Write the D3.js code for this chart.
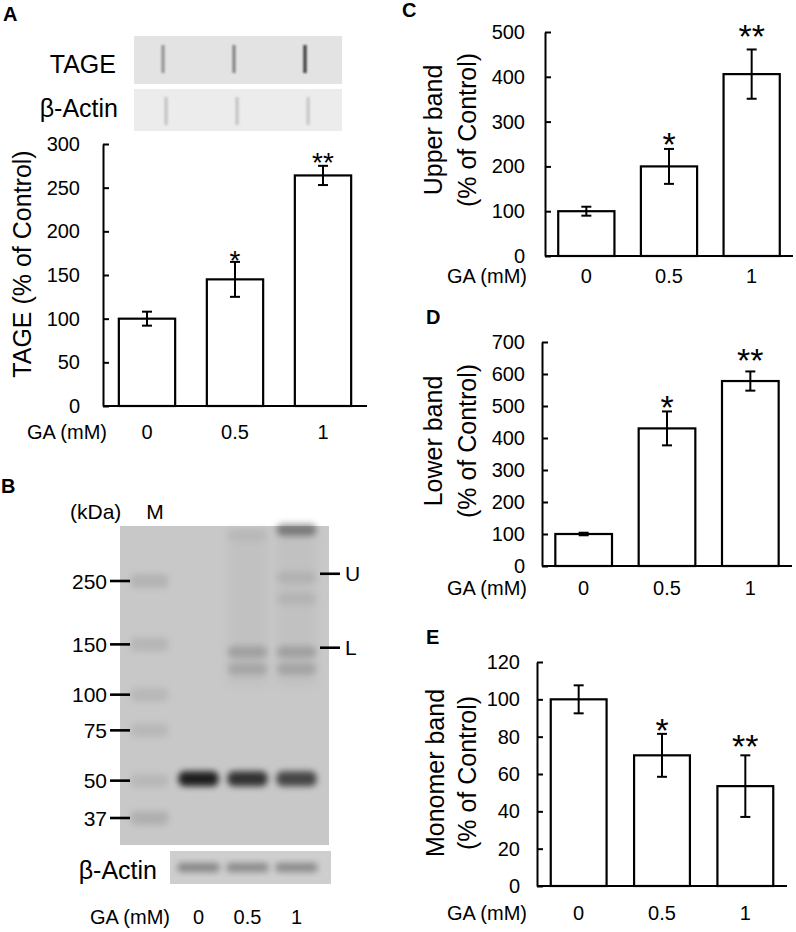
<!DOCTYPE html>
<html>
<head>
<meta charset="utf-8">
<script src="https://cdn.jsdelivr.net/npm/d3@7"></script>
<style>
  body { margin: 0; background: #fff; }
  svg { font-family: "Liberation Sans", Arial, sans-serif; }
</style>
</head>
<body>
<script>
// ---- data ----
const doses = ['0', '0.5', '1'];

const tageMean = [100, 145, 264];
const tageErr = [8, 20, 11];
const tageSig = ['', '*', '**'];
const tageTicks = [0, 50, 100, 150, 200, 250, 300];

const upperMean = [100, 200, 406];
const upperErr = [10, 39, 55];
const upperSig = ['', '*', '**'];
const upperTicks = [0, 100, 200, 300, 400, 500];

const lowerMean = [100, 430, 578];
const lowerErr = [4, 53, 30];
const lowerSig = ['', '*', '**'];
const lowerTicks = [0, 100, 200, 300, 400, 500, 600, 700];

const monoMean = [100, 70, 53.5];
const monoErr = [7.5, 11.5, 16.5];
const monoSig = ['', '*', '**'];
const monoTicks = [0, 20, 40, 60, 80, 100, 120];

// slot blot intensities (panel A)
const tageBlot = [0.35, 0.42, 0.75];
const actinBlotA = [0.16, 0.16, 0.15];

// western blot (panel B)
const gelLanes = ['M', '0', '0.5', '1'];
const markerKDa = [250, 150, 100, 75, 50, 37];
const markerAlpha = [0.1, 0.09, 0.08, 0.08, 0.08, 0.12];
const gelBands = [
    {lane: '0', kDa: 51, a: 0.85},
    {lane: '0.5', kDa: 360, a: 0.05},
    {lane: '0.5', kDa: 140, a: 0.17},
    {lane: '0.5', kDa: 122, a: 0.14},
    {lane: '0.5', kDa: 51, a: 0.75},
    {lane: '1', kDa: 375, a: 0.38},
    {lane: '1', kDa: 255, a: 0.08},
    {lane: '1', kDa: 215, a: 0.07},
    {lane: '1', kDa: 140, a: 0.17},
    {lane: '1', kDa: 122, a: 0.15},
    {lane: '1', kDa: 51, a: 0.65}
];
const bandMarks = [{name: 'U', kDa: 265}, {name: 'L', kDa: 146}];
const actinBlotB = [0.35, 0.33, 0.33];

const svg = d3.select('body').append('svg')
    .attr('width', 796)
    .attr('height', 932);

const defs = svg.append('defs');
function blurFilter(id, sd) {
    defs.append('filter').attr('id', id)
        .attr('x', '-50%').attr('y', '-50%').attr('width', '200%').attr('height', '200%')
        .append('feGaussianBlur').attr('stdDeviation', sd);
}
blurFilter('blur', 3.4);
blurFilter('blurS', 1.3);
blurFilter('blurL', 5);

function panelLabel(txt, x, y) {
    svg.append('text')
        .attr('x', x).attr('y', y)
        .attr('font-size', 20).attr('font-weight', 'bold')
        .text(txt);
}

/*
 * Bar chart with inward ticks, error bars and significance stars.
 */
function barPanel(o) {
    const g = svg.append('g');

    const x = d3.scaleBand().domain(doses).range([o.x0, o.x1])
        .paddingInner(o.pad).paddingOuter(o.pad / 2);
    const y = d3.scaleLinear().domain([0, d3.max(o.ticks)]).range([o.yBottom, o.yTop]);

    const yAxis = d3.axisLeft(y)
        .tickValues(o.ticks)
        .tickSize(-6)
        .tickSizeOuter(0)
        .tickPadding(o.labelGap);

    const yG = g.append('g')
        .attr('transform', `translate(${o.x0},0)`)
        .call(yAxis);
    yG.selectAll('path, line').attr('stroke', '#000').attr('stroke-width', 2);
    yG.selectAll('text').attr('font-size', 20).attr('fill', '#000').attr('font-family', null);

    const rows = doses.map((d, i) => ({dose: d, mean: o.mean[i], err: o.err[i], sig: o.sig[i]}));

    g.selectAll('.bar')
        .data(rows)
        .join('rect')
        .attr('class', 'bar')
        .attr('x', d => x(d.dose))
        .attr('y', d => y(d.mean))
        .attr('width', x.bandwidth())
        .attr('height', d => y(0) - y(d.mean))
        .attr('fill', '#fff')
        .attr('stroke', '#000')
        .attr('stroke-width', 2.2);

    // x-axis line
    g.append('line')
        .attr('x1', o.x0).attr('x2', o.x1)
        .attr('y1', y(0)).attr('y2', y(0))
        .attr('stroke', '#000').attr('stroke-width', 2);

    // error bars
    const eb = g.selectAll('.err')
        .data(rows)
        .join('g')
        .attr('class', 'err')
        .attr('transform', d => `translate(${x(d.dose) + x.bandwidth() / 2},0)`)
        .attr('stroke', '#000').attr('stroke-width', 2);
    eb.append('line').attr('y1', d => y(d.mean + d.err)).attr('y2', d => y(d.mean - d.err));
    eb.append('line').attr('x1', -5).attr('x2', 5).attr('y1', d => y(d.mean + d.err)).attr('y2', d => y(d.mean + d.err));
    eb.append('line').attr('x1', -5).attr('x2', 5).attr('y1', d => y(d.mean - d.err)).attr('y2', d => y(d.mean - d.err));

    // significance marks
    g.selectAll('.sig')
        .data(rows.filter(d => d.sig))
        .join('text')
        .attr('class', 'sig')
        .attr('text-anchor', 'middle')
        .attr('font-size', o.starSize)
        .attr('x', d => x(d.dose) + x.bandwidth() / 2)
        .attr('y', d => y(d.mean + d.err) - (d.sig.length > 1 ? o.starGap[1] : o.starGap[0]) + 0.43 * o.starSize)
        .text(d => d.sig);

    // dose labels
    const xAxis = d3.axisBottom(x).tickSize(0).tickPadding(o.gaBaseline - o.yBottom - 14.2);
    const xG = g.append('g')
        .attr('transform', `translate(0,${o.yBottom})`)
        .call(xAxis);
    xG.select('.domain').remove();
    xG.selectAll('text').attr('font-size', 20).attr('fill', '#000').attr('font-family', null);

    g.append('text')
        .attr('x', o.gaRight).attr('y', o.gaBaseline)
        .attr('text-anchor', 'end')
        .attr('font-size', 20)
        .text('GA (mM)');

    // rotated y title
    o.title.forEach((t, i) => {
        g.append('text')
            .attr('transform', `translate(${o.titleX[i]},${o.titleY}) rotate(-90)`)
            .attr('text-anchor', 'middle')
            .attr('font-size', o.titleSize)
            .text(t);
    });
}

// ---------- Panel A ----------
panelLabel('A', 3, 21);

const blotX = d3.scalePoint().domain(doses).range([163, 305]);
svg.append('rect').attr('x', 134).attr('y', 36).attr('width', 208).attr('height', 48).attr('fill', '#e3e3e3');
svg.append('rect').attr('x', 134).attr('y', 89).attr('width', 208).attr('height', 42).attr('fill', '#ececec');
svg.append('g').attr('filter', 'url(#blurS)')
    .selectAll('rect')
    .data(tageBlot)
    .join('rect')
    .attr('x', (d, i) => blotX(doses[i]) - 1.6)
    .attr('y', 45)
    .attr('width', 3.2)
    .attr('height', 28)
    .attr('fill', '#000')
    .attr('fill-opacity', d => d);
svg.append('g').attr('filter', 'url(#blurS)')
    .selectAll('rect')
    .data(actinBlotA)
    .join('rect')
    .attr('x', (d, i) => blotX(doses[i]) + 3 - 1.6)
    .attr('y', 97)
    .attr('width', 3.4)
    .attr('height', 28)
    .attr('fill', '#000')
    .attr('fill-opacity', d => d);
svg.append('text').attr('x', 116).attr('y', 73).attr('text-anchor', 'end').attr('font-size', 25).text('TAGE');
svg.append('text').attr('x', 118).attr('y', 117).attr('text-anchor', 'end').attr('font-size', 25).text('β-Actin');

barPanel({
    x0: 103, x1: 367, yBottom: 406, yTop: 144, pad: 0.36,
    ticks: tageTicks, mean: tageMean, err: tageErr, sig: tageSig,
    labelGap: 23, starSize: 28, starGap: [4, 6],
    gaRight: 107, gaBaseline: 439,
    title: ['TAGE (% of Control)'], titleX: [31], titleY: 264, titleSize: 25
});

// ---------- Panel B ----------
panelLabel('B', 1, 493);

const gel = {x0: 120, x1: 329, y0: 526, y1: 845};
const kda = d3.scaleLog().domain([37, 250]).range([818, 581]);
const laneX = d3.scaleBand().domain(gelLanes).range([125, 321]).paddingInner(0.1).paddingOuter(0.05);

svg.append('rect').attr('x', gel.x0).attr('y', gel.y0)
    .attr('width', gel.x1 - gel.x0).attr('height', gel.y1 - gel.y0)
    .attr('fill', '#c8c8c8');

const gelG = svg.append('g');
// faint lane smear for treated lanes
gelG.append('g').attr('filter', 'url(#blurL)')
    .selectAll('rect')
    .data(['0.5', '1'])
    .join('rect')
    .attr('x', d => laneX(d) + 2)
    .attr('y', gel.y0 + 4)
    .attr('width', laneX.bandwidth() - 4)
    .attr('height', kda(110) - gel.y0)
    .attr('fill', '#000')
    .attr('fill-opacity', 0.035);

// marker ladder
gelG.append('g').attr('filter', 'url(#blur)')
    .selectAll('rect')
    .data(markerKDa)
    .join('rect')
    .attr('x', laneX('M') + 3)
    .attr('y', d => kda(d) - 7)
    .attr('width', laneX.bandwidth() - 6)
    .attr('height', 14)
    .attr('rx', 5)
    .attr('fill', '#000')
    .attr('fill-opacity', (d, i) => markerAlpha[i]);

// sample bands
gelG.append('g').attr('filter', 'url(#blur)')
    .selectAll('rect')
    .data(gelBands)
    .join('rect')
    .attr('x', d => laneX(d.lane) + 2)
    .attr('y', d => kda(d.kDa) - 7)
    .attr('width', laneX.bandwidth() - 4)
    .attr('height', d => d.kDa < 60 ? 15 : 12)
    .attr('rx', 6)
    .attr('fill', '#000')
    .attr('fill-opacity', d => d.a);

// marker tick marks
svg.append('g')
    .selectAll('line')
    .data(markerKDa)
    .join('line')
    .attr('x1', 110).attr('x2', 130)
    .attr('y1', d => kda(d)).attr('y2', d => kda(d))
    .attr('stroke', '#000').attr('stroke-width', 2.6);
svg.append('g')
    .selectAll('text')
    .data(markerKDa)
    .join('text')
    .attr('x', 107)
    .attr('y', d => kda(d) + 7.5)
    .attr('text-anchor', 'end')
    .attr('font-size', 21)
    .text(d => d);

svg.append('text').attr('x', 70).attr('y', 519).attr('font-size', 21).text('(kDa)');
svg.append('text').attr('x', 155).attr('y', 519).attr('text-anchor', 'middle').attr('font-size', 21).text('M');

// U / L band markers
svg.append('g')
    .selectAll('line')
    .data(bandMarks)
    .join('line')
    .attr('x1', 320).attr('x2', 340)
    .attr('y1', d => kda(d.kDa)).attr('y2', d => kda(d.kDa))
    .attr('stroke', '#000').attr('stroke-width', 2.6);
svg.append('g')
    .selectAll('text')
    .data(bandMarks)
    .join('text')
    .attr('x', 345)
    .attr('y', d => kda(d.kDa) + 7.5)
    .attr('font-size', 21)
    .text(d => d.name);

// beta-actin strip
svg.append('rect').attr('x', 170).attr('y', 851).attr('width', 161).attr('height', 33).attr('fill', '#cecece');
svg.append('g').attr('filter', 'url(#blur)')
    .selectAll('rect')
    .data(actinBlotB)
    .join('rect')
    .attr('x', (d, i) => laneX(doses[i]) + 1)
    .attr('y', 863)
    .attr('width', laneX.bandwidth() - 2)
    .attr('height', 9)
    .attr('rx', 4)
    .attr('fill', '#000')
    .attr('fill-opacity', d => d);
svg.append('text').attr('x', 157).attr('y', 879).attr('text-anchor', 'end').attr('font-size', 25).text('β-Actin');

svg.append('text').attr('x', 170).attr('y', 924).attr('text-anchor', 'end').attr('font-size', 20).text('GA (mM)');
svg.append('g')
    .selectAll('text')
    .data(doses)
    .join('text')
    .attr('x', d => laneX(d) + laneX.bandwidth() / 2)
    .attr('y', 924)
    .attr('text-anchor', 'middle')
    .attr('font-size', 20)
    .text(d => d);

// ---------- Panel C ----------
panelLabel('C', 402, 17);
barPanel({
    x0: 545, x1: 793, yBottom: 256, yTop: 32, pad: 0.32,
    ticks: upperTicks, mean: upperMean, err: upperErr, sig: upperSig,
    labelGap: 20, starSize: 34, starGap: [8, 16],
    gaRight: 527, gaBaseline: 283,
    title: ['Upper band', '(% of Control)'], titleX: [442, 476], titleY: 130, titleSize: 25
});

// ---------- Panel D ----------
panelLabel('D', 426, 324);
barPanel({
    x0: 542, x1: 792, yBottom: 566, yTop: 342, pad: 0.32,
    ticks: lowerTicks, mean: lowerMean, err: lowerErr, sig: lowerSig,
    labelGap: 17, starSize: 34, starGap: [7, 14],
    gaRight: 527, gaBaseline: 595,
    title: ['Lower band', '(% of Control)'], titleX: [442, 476], titleY: 441, titleSize: 25
});

// ---------- Panel E ----------
panelLabel('E', 426, 644);
barPanel({
    x0: 537, x1: 787, yBottom: 886, yTop: 662, pad: 0.33,
    ticks: monoTicks, mean: monoMean, err: monoErr, sig: monoSig,
    labelGap: 17, starSize: 34, starGap: [6, 12],
    gaRight: 527, gaBaseline: 920,
    title: ['Monomer band', '(% of Control)'], titleX: [444, 476], titleY: 773, titleSize: 25
});
</script>
</body>
</html>
